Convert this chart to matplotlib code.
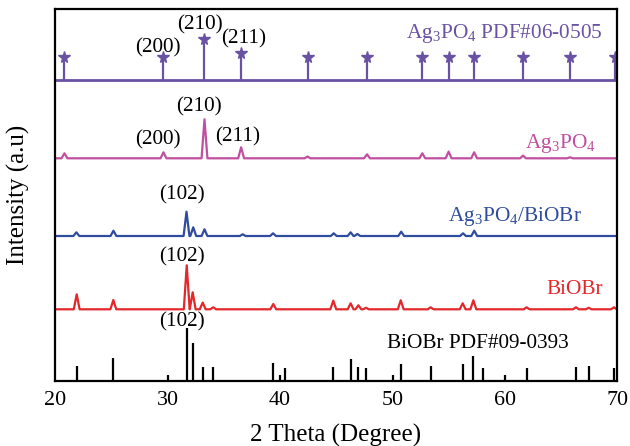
import matplotlib
matplotlib.use('Agg')
import matplotlib.pyplot as plt
import numpy as np

plt.rcParams['font.family'] = ['Liberation Serif', 'DejaVu Serif']
plt.rcParams['mathtext.fontset'] = 'custom'
plt.rcParams['mathtext.rm'] = 'Liberation Serif'

# Ag3PO4 standard card PDF#06-0505 (stick pattern)
agp_pdf_pos = [20.84, 29.65, 33.3, 36.56, 42.47, 47.76, 52.68, 55.02, 57.29, 61.64, 65.82, 69.8]
agp_pdf_h = [22.7, 23.3, 40.7, 26.7, 22.7, 22.7, 22.7, 22.7, 22.7, 22.7, 22.7, 22.7]

# Ag3PO4 measured pattern
agp_pos = [20.84, 29.65, 33.3, 36.56, 42.47, 47.76, 52.68, 55.02, 57.29, 61.64, 65.82]
agp_h = [5, 6, 39, 11, 1.7, 4, 5, 6.7, 6, 2.7, 1]

# Ag3PO4/BiOBr composite
comp_pos = [21.9, 25.2, 31.7, 32.3, 33.3, 36.7, 39.4, 44.8, 46.3, 46.9, 50.8, 56.3, 57.3]
comp_h = [3.7, 5.3, 24.3, 8.7, 6.7, 1.7, 2.7, 2.7, 3.7, 2, 4.3, 2.7, 5.3]

# BiOBr measured pattern
biobr_pos = [21.93, 25.19, 31.72, 32.25, 33.14, 34.08, 39.42, 44.76, 46.3, 46.99, 47.67,
             50.76, 53.42, 56.27, 57.22, 61.96, 66.35, 67.48, 69.73]
biobr_h = [15, 9.3, 44, 17, 6.7, 2, 5.3, 8.7, 6, 4, 1.5, 9, 2, 6, 9, 2, 2, 1.5, 2]

# BiOBr standard card PDF#09-0393 (stick pattern)
biobr_pdf_pos = [21.93, 25.19, 30.03, 31.72, 32.25, 33.14, 34.08, 39.42, 40.02, 40.46, 44.76,
                 46.3, 46.99, 47.67, 50.1, 50.76, 53.42, 56.27, 57.22, 58.05, 60.03, 61.96,
                 66.35, 67.48, 69.73]
biobr_pdf_h = [15, 23, 6, 53, 38, 14, 14, 18, 6, 13, 14, 22, 14, 13, 6, 17, 15, 17, 25, 13,
               6, 13, 14, 15, 13]

# vertical offsets of each trace
offsets = {'biobr_pdf': 0, 'biobr': 71.7, 'comp': 145, 'agp': 222.7, 'agp_pdf': 301}

c_pdf = '#6a52a3'
c_agp = '#c14f9f'
c_comp = '#2f4c9e'
c_biobr = '#e3272a'

AGP = r'Ag$_\mathregular{3}$PO$_\mathregular{4}$'


def pattern(pos, h, base, w=0.26):
    # join each peak apex to the baseline on both sides
    xs = [20]
    ys = [base]
    for p, hh in zip(pos, h):
        xs += [p - w, p, p + w]
        ys += [base, base + hh, base]
    xs.append(70)
    ys.append(base)
    return np.array(xs), np.array(ys)


fig = plt.figure(figsize=(6.3, 4.46), dpi=100)
ax = fig.add_subplot(111)
fig.subplots_adjust(left=55/630, right=617/630, top=1-9.3/446, bottom=65/446)

# top: Ag3PO4 card
b = offsets['agp_pdf']
ax.axhline(b, color=c_pdf, lw=2)
ax.vlines(agp_pdf_pos, b, [b + v for v in agp_pdf_h], color=c_pdf, lw=1.6)
ax.plot(agp_pdf_pos, [b + v for v in agp_pdf_h], ls='none', marker='*', ms=8.5, color=c_pdf)
ax.text(68.75, 347.7, AGP + ' PDF#06-0505', color=c_pdf, fontsize=15.3, ha='right', va='center')
ax.text(29.19, 332.7, '(200)', fontsize=15.3, ha='center', va='center')
ax.text(32.9, 356, '(210)', fontsize=15.3, ha='center', va='center')
ax.text(36.75, 341.7, '(211)', fontsize=15.3, ha='center', va='center')

# Ag3PO4
x, y = pattern(agp_pos, agp_h, offsets['agp'])
ax.plot(x, y, color=c_agp, lw=1.6)
ax.text(68.13, 237.7, AGP, color=c_agp, fontsize=15.3, ha='right', va='center')
ax.text(29.19, 241, '(200)', fontsize=15.3, ha='center', va='center')
ax.text(32.84, 274.3, '(210)', fontsize=15.3, ha='center', va='center')
ax.text(36.22, 244.3, '(211)', fontsize=15.3, ha='center', va='center')

# composite
x, y = pattern(comp_pos, comp_h, offsets['comp'])
ax.plot(x, y, color=c_comp, lw=1.6)
ax.text(66.85, 165, AGP + '/BiOBr', color=c_comp, fontsize=15.3, ha='right', va='center')
ax.text(31.27, 186, '(102)', fontsize=15.3, ha='center', va='center')

# BiOBr
x, y = pattern(biobr_pos, biobr_h, offsets['biobr'])
ax.plot(x, y, color=c_biobr, lw=1.6)
ax.text(68.75, 91, 'BiOBr', color=c_biobr, fontsize=15.3, ha='right', va='center')
ax.text(31.27, 124.3, '(102)', fontsize=15.3, ha='center', va='center')

# bottom: BiOBr card
ax.vlines(biobr_pdf_pos, 0, biobr_pdf_h, color='black', lw=1.6)
ax.text(65.73, 37.7, 'BiOBr PDF#09-0393', fontsize=15.3, ha='right', va='center')
ax.text(31.27, 59.3, '(102)', fontsize=15.3, ha='center', va='center')

ax.set_xlim(20, 70)
ax.set_ylim(0, 371.7)
ax.set_xticks(range(20, 71, 10))
ax.set_yticks([])
ax.tick_params(axis='x', direction='in', length=0, labelsize=15.8, pad=7)
for s in ax.spines.values():
    s.set_linewidth(1.6)
ax.set_xlabel('2 Theta (Degree)', fontsize=18, labelpad=10)
ax.set_ylabel('Intensity (a.u)', fontsize=18, labelpad=18)

plt.savefig('out.png', dpi=100)
